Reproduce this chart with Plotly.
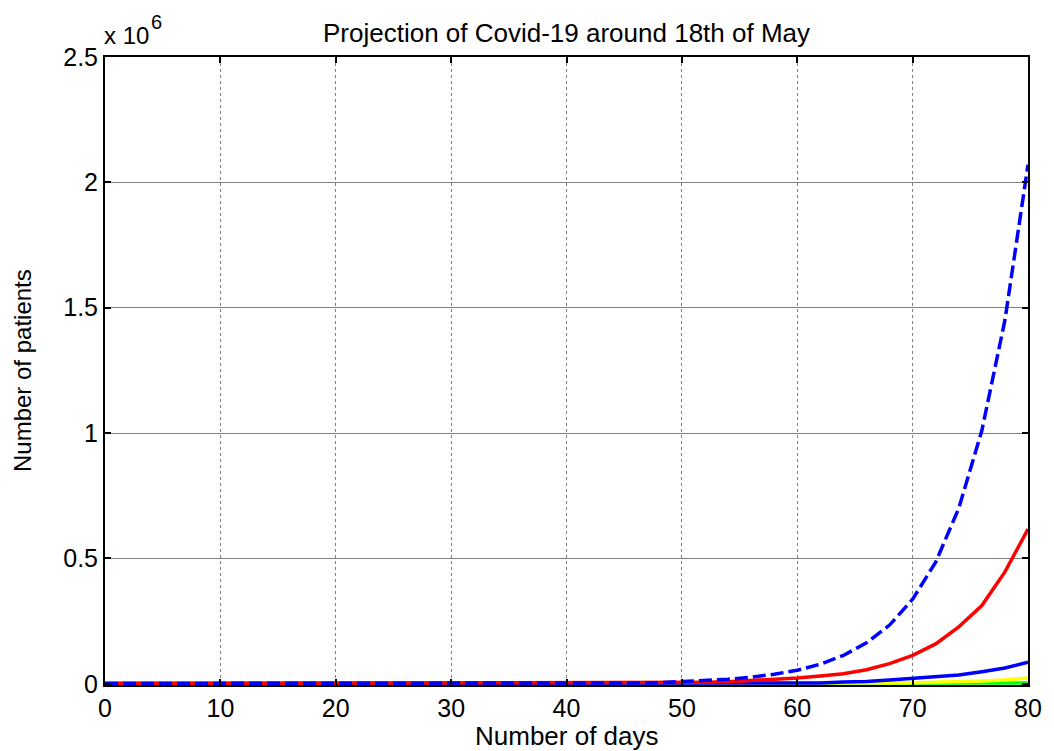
import plotly.graph_objects as go

# Projection horizon: every second day from day 0 to day 80
days = list(range(0, 82, 2))

# Projected number of patients per scenario
scenario_high = [
    1000, 1100, 1200, 1300, 1400, 1500, 1600, 1700, 1800, 1900,
    2000, 2100, 2200, 2300, 2400, 2500, 2600, 2700, 2800, 2900,
    3000, 3100, 3200, 3300, 3500, 9000, 13000, 18000, 26000, 38000,
    54000, 78000, 113000, 163000, 234000, 337000, 485000, 700000,
    1010000, 1450000, 2070000,
]
scenario_mid = [
    1000, 1100, 1200, 1300, 1400, 1500, 1600, 1700, 1800, 1900,
    2000, 2100, 2200, 2300, 2400, 2500, 2600, 2700, 2800, 2900,
    3000, 3100, 3200, 3300, 3500, 4000, 6000, 8000, 12000, 17000,
    23000, 31000, 40000, 56000, 80000, 113000, 159000, 227000,
    312000, 446000, 617000,
]
scenario_low = [
    800, 800, 800, 800, 800, 800, 800, 800, 800, 800,
    800, 800, 800, 800, 800, 800, 800, 800, 800, 800,
    800, 800, 900, 900, 900, 1000, 1000, 1200, 1500, 1800,
    2000, 3000, 7000, 9000, 15000, 21000, 28000, 35000,
    48000, 63000, 86000,
]
scenario_yellow = [
    500, 500, 500, 500, 500, 500, 500, 500, 500, 500,
    500, 500, 500, 500, 500, 500, 500, 500, 500, 500,
    500, 500, 500, 500, 500, 500, 500, 500, 500, 500,
    600, 1000, 1500, 2000, 3000, 4000, 5500, 7500,
    10500, 15000, 23000,
]
scenario_green = [
    500, 500, 500, 500, 500, 500, 500, 500, 500, 500,
    500, 500, 500, 500, 500, 500, 500, 500, 500, 500,
    500, 500, 500, 500, 500, 500, 500, 500, 500, 500,
    500, 600, 700, 800, 900, 1000, 1200, 1400,
    1700, 2100, 2600,
]

x_ticks = [0, 10, 20, 30, 40, 50, 60, 70, 80]
y_ticks = [0, 500000, 1000000, 1500000, 2000000, 2500000]
y_tick_text = ["0", "0.5", "1", "1.5", "2", "2.5"]

FONT = "Liberation Sans, Arial, sans-serif"

fig = go.Figure()

series = [
    (scenario_green, "#00ff00", "solid"),
    (scenario_yellow, "#ffff00", "solid"),
    (scenario_low, "#0000ff", "solid"),
    (scenario_mid, "#ff0000", "solid"),
    (scenario_high, "#0000ff", "13px,5px"),
]
for values, color, dash in series:
    fig.add_trace(go.Scatter(
        x=days, y=values, mode="lines",
        line=dict(color=color, width=3.5, dash=dash),
        showlegend=False, hoverinfo="skip",
    ))

axis_common = dict(
    showline=True, linecolor="black", linewidth=2, mirror="ticks",
    ticks="inside", ticklen=6, tickwidth=1.5, tickcolor="black",
    showgrid=True, gridcolor="#808080", gridwidth=1,
    zeroline=False,
    tickfont=dict(family=FONT, size=25, color="black"),
)

fig.update_xaxes(
    range=[0, 80], tickvals=x_ticks, griddash="dot", **axis_common,
)
fig.update_yaxes(
    range=[-5000, 2500000], tickvals=y_ticks, ticktext=y_tick_text,
    griddash="solid", **axis_common,
)

fig.update_layout(
    width=1054, height=751,
    margin=dict(l=105, r=17, t=57, b=66),
    paper_bgcolor="white", plot_bgcolor="white",
    font=dict(family=FONT, color="black"),
    title=dict(
        text="Projection of Covid-19 around 18th of May",
        font=dict(family=FONT, size=26, color="black"),
        x=0.5, xref="paper", xanchor="center",
        y=1 - 33 / 751, yref="container", yanchor="middle",
    ),
    annotations=[
        dict(text="Number of days", xref="paper", yref="paper",
             x=0.5, y=0, yshift=-51, xanchor="center", yanchor="middle",
             showarrow=False, font=dict(family=FONT, size=26)),
        dict(text="Number of patients", xref="paper", yref="paper",
             x=0, y=0.5, xshift=-83, xanchor="center", yanchor="middle",
             textangle=-90, showarrow=False, font=dict(family=FONT, size=24)),
        dict(text="x 10", xref="paper", yref="paper",
             x=0, y=1, xshift=-3, yshift=6, xanchor="left", yanchor="bottom",
             showarrow=False, font=dict(family=FONT, size=24)),
        dict(text="6", xref="paper", yref="paper",
             x=0, y=1, xshift=44, yshift=22, xanchor="left", yanchor="bottom",
             showarrow=False, font=dict(family=FONT, size=20)),
    ],
)

fig.write_html("out.html")
